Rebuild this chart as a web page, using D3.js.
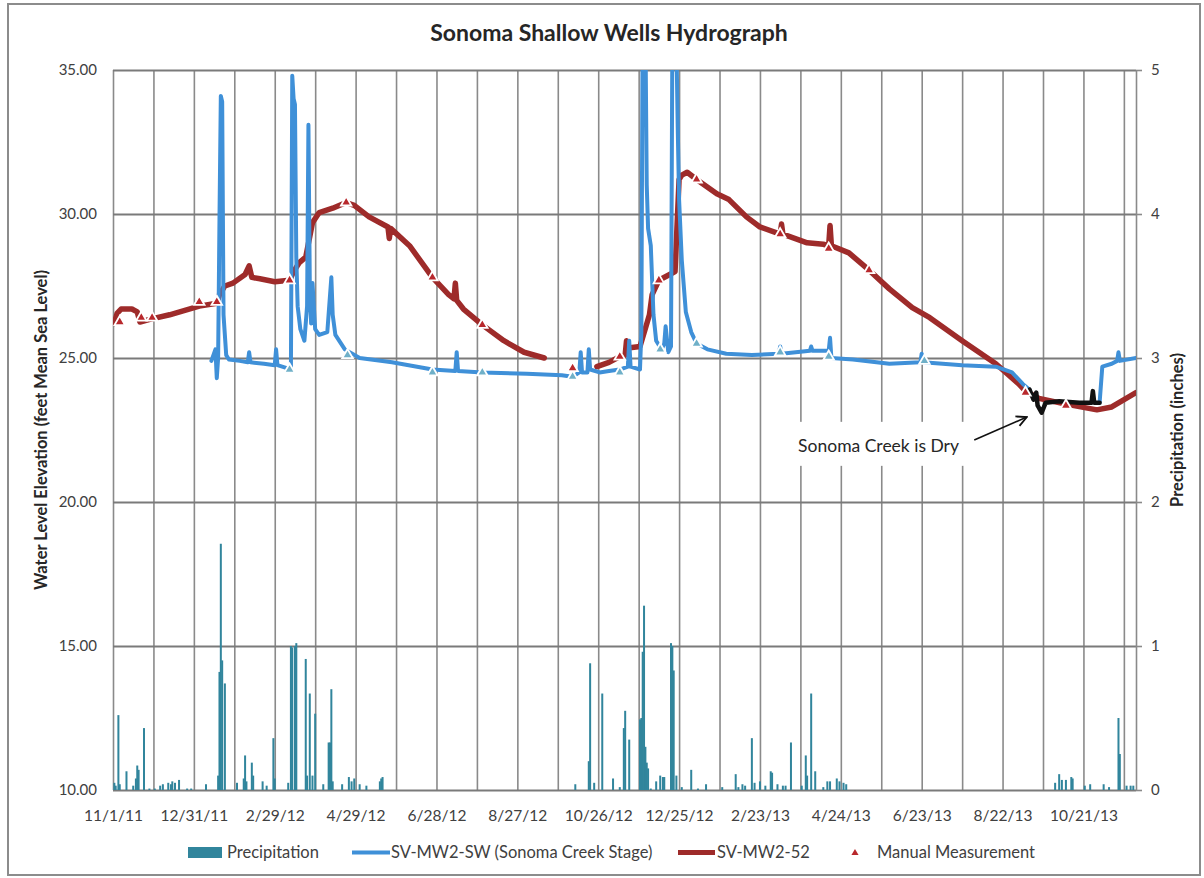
<!DOCTYPE html>
<html>
<head>
<meta charset="utf-8">
<script src="https://cdn.jsdelivr.net/npm/d3@7"></script>
<style>
  body { margin: 0; background: #fff; }
  text { font-family: Lato, "Open Sans", sans-serif; }
</style>
</head>
<body>
<div id="chart"></div>
<script>
// ---- data ----
const chartTitle = "Sonoma Shallow Wells Hydrograph";
const axisStart = "11/1/11";
const axisEnd = "11/29/13";
const levelTicks = [10, 15, 20, 25, 30, 35];
const rainTicks = [0, 1, 2, 3, 4, 5];

const rainDates = ["11/2/11","11/3/11","11/5/11","11/6/11","11/11/11","11/16/11","11/18/11","11/19/11","11/20/11","11/24/11","11/28/11",
  "12/2/11","12/6/11","12/8/11","12/12/11","12/14/11","12/15/11","12/17/11","12/20/11","12/26/11","12/29/11",
  "1/9/12","1/18/12","1/19/12","1/20/12","1/21/12","1/23/12","2/1/12","2/6/12","2/7/12","2/8/12","2/12/12","2/13/12","2/20/12","2/23/12","2/28/12","2/29/12",
  "3/10/12","3/12/12","3/13/12","3/15/12","3/16/12","3/23/12","3/24/12","3/26/12","3/28/12","3/30/12",
  "4/5/12","4/9/12","4/10/12","4/11/12","4/12/12","4/19/12","4/24/12","4/26/12","4/28/12","5/2/12","5/7/12","5/17/12","5/18/12","5/19/12",
  "10/9/12","10/19/12","10/20/12","10/23/12","10/29/12","11/6/12","11/11/12","11/14/12","11/15/12","11/18/12","11/26/12","11/27/12","11/28/12","11/29/12","11/30/12",
  "12/1/12","12/2/12","12/4/12","12/8/12","12/11/12","12/13/12","12/14/12","12/19/12","12/20/12","12/21/12","12/23/12","12/27/12",
  "1/3/13","1/8/13","1/14/13","1/26/13","2/5/13","2/7/13","2/10/13","2/12/13","2/17/13","2/19/13","2/23/13","2/27/13",
  "3/3/13","3/4/13","3/8/13","3/12/13","3/14/13","3/18/13","3/26/13","3/29/13","3/30/13",
  "4/2/13","4/5/13","4/11/13","4/14/13","4/16/13","4/21/13","4/23/13","4/26/13","4/28/13",
  "9/30/13","10/3/13","10/5/13","10/8/13","10/12/13","10/13/13","10/22/13","10/26/13","11/5/13","11/9/13","11/16/13","11/17/13","11/22/13","11/25/13","11/27/13"];
const rainInches = [0.05,0.03,0.52,0.04,0.13,0.03,0.08,0.17,0.14,0.43,0.01,
  0.01,0.03,0.04,0.05,0.04,0.06,0.05,0.07,0.01,0.01,
  0.04,0.10,0.82,1.71,0.90,0.74,0.05,0.08,0.24,0.06,0.19,0.10,0.06,0.03,0.36,0.08,
  0.05,1.00,0.99,1.00,1.02,0.91,0.10,0.67,0.10,0.53,
  0.04,0.33,0.33,0.70,0.06,0.04,0.09,0.06,0.08,0.04,0.03,0.06,0.08,0.09,
  0.04,0.20,0.88,0.05,0.67,0.08,0.02,0.43,0.55,0.35,0.49,0.50,0.96,1.28,0.30,
  0.19,0.15,0.01,0.06,0.10,0.09,0.09,1.02,1.00,0.83,0.10,0.02,
  0.14,0.01,0.04,0.02,0.11,0.02,0.04,0.03,0.36,0.05,0.06,0.03,
  0.13,0.12,0.04,0.03,0.03,0.33,0.03,0.24,0.10,
  0.67,0.13,0.02,0.06,0.06,0.08,0.06,0.05,0.04,
  0.05,0.11,0.07,0.07,0.09,0.08,0.03,0.04,0.04,0.02,0.50,0.25,0.03,0.03,0.03];

// SV-MW2-SW creek stage, before it went dry
const stageDates = ["1/13/12","1/16/12","1/17/12","1/18/12","1/19/12","1/20/12","1/21/12","1/22/12","1/24/12","1/26/12","2/3/12","2/9/12","2/10/12","2/11/12","2/21/12","2/29/12","3/1/12","3/2/12","3/9/12","3/12/12",
  "3/13/12","3/14/12","3/15/12","3/16/12","3/17/12","3/19/12","3/22/12","3/24/12","3/25/12","3/26/12","3/27/12","3/28/12","3/30/12","4/2/12","4/8/12","4/11/12","4/12/12","4/14/12","4/21/12",
  "5/2/12","5/26/12","6/25/12","7/12/12","7/13/12","7/14/12","8/1/12","9/3/12","9/29/12","10/7/12","10/12/12","10/13/12","10/14/12","10/18/12","10/19/12","10/20/12","10/27/12",
  "11/3/12","11/11/12","11/17/12","11/18/12","11/19/12","11/26/12","11/27/12","11/28/12","11/30/12","12/1/12","12/2/12","12/4/12","12/6/12","12/8/12","12/12/12","12/14/12","12/15/12","12/17/12","12/19/12",
  "12/20/12","12/23/12","12/24/12","12/25/12","12/27/12","12/30/12","1/3/13","1/7/13","1/15/13","1/29/13","2/17/13","3/9/13","3/10/13","3/11/13","4/1/13","4/2/13","4/3/13","4/15/13","4/16/13","4/17/13",
  "5/3/13","5/30/13","6/22/13","6/23/13","6/24/13","7/23/13","8/17/13","8/29/13","9/6/13","9/11/13"];
const stageFeet = [24.9,25.3,24.3,25.0,29.8,34.1,33.9,26.5,25.1,24.95,24.9,24.85,25.2,24.85,24.8,24.75,25.3,24.75,24.65,24.6,
  34.8,34.0,33.8,28.5,26.8,26.0,25.6,26.8,33.1,27.6,26.2,27.6,26.0,25.8,25.9,27.8,26.5,25.8,25.3,
  25.0,24.85,24.6,24.55,25.2,24.55,24.5,24.45,24.4,24.35,24.5,25.2,24.5,24.5,25.3,24.6,24.5,
  24.55,24.6,24.7,25.6,24.7,24.6,25.9,37.0,36.5,31.0,29.5,28.9,26.5,25.6,25.3,25.5,26.1,25.2,25.4,
  36.0,36.0,33.0,30.5,28.4,26.6,25.9,25.5,25.3,25.15,25.1,25.15,25.4,25.15,25.25,25.4,25.25,25.25,25.7,25.0,
  24.95,24.8,24.85,25.15,24.85,24.75,24.7,24.5,24.1,23.9];

// creek dry period (drawn black)
const dryDates = ["9/11/13","9/14/13","9/16/13","9/17/13","9/20/13","9/23/13","10/3/13","10/18/13","10/27/13","10/28/13","10/29/13","11/2/13"];
const dryFeet = [23.9,23.55,23.8,23.35,23.1,23.45,23.5,23.45,23.45,23.85,23.45,23.45];

// creek stage after flow returned
const stageLateDates = ["11/2/13","11/4/13","11/11/13","11/15/13","11/16/13","11/17/13","11/29/13"];
const stageLateFeet = [23.45,24.7,24.8,24.9,25.2,24.9,25.0];

// SV-MW2-52 well, first record
const wellDates = ["11/2/11","11/4/11","11/7/11","11/15/11","11/19/11","11/21/11","11/29/11","12/13/11","1/4/12","1/17/12","1/19/12","1/23/12","1/29/12","2/7/12","2/10/12","2/12/12","2/18/12","2/29/12",
  "3/11/12","3/14/12","3/18/12","3/23/12","3/28/12","4/2/12","4/12/12","4/22/12","4/28/12","5/9/12","5/23/12","5/24/12","5/25/12","6/8/12","6/25/12","7/7/12","7/11/12","7/12/12","7/13/12","7/18/12","8/1/12","8/17/12","9/1/12","9/16/12"];
const wellFeet = [26.2,26.55,26.7,26.7,26.6,26.25,26.35,26.5,26.8,26.9,27.2,27.5,27.6,27.9,28.2,27.8,27.75,27.65,
  27.7,28.0,28.3,28.5,29.7,30.05,30.2,30.4,30.3,29.9,29.55,29.15,29.5,28.9,27.8,27.2,27.05,27.6,27.0,26.7,26.15,25.6,25.2,25.0];

// SV-MW2-52 well, second record
const wellLateDates = ["10/25/12","11/3/12","11/11/12","11/15/12","11/16/12","11/17/12","11/26/12","12/3/12","12/5/12","12/10/12","12/18/12","12/22/12","12/25/12","12/27/12","12/31/12",
  "1/7/13","1/22/13","1/31/13","2/13/13","2/23/13","3/10/13","3/11/13","3/12/13","3/30/13","4/11/13","4/15/13","4/16/13","4/17/13","4/30/13","5/15/13","5/30/13","6/16/13","6/29/13","7/23/13","8/17/13","9/3/13","9/8/13","9/18/13","10/8/13","10/31/13","11/11/13","11/29/13"];
const wellLateFeet = [24.7,24.85,25.05,25.1,25.6,25.35,25.4,26.5,27.2,27.7,27.9,28.0,31.2,31.35,31.45,
  31.2,30.7,30.5,29.9,29.55,29.3,29.65,29.3,29.0,28.95,28.9,29.6,28.9,28.65,28.05,27.4,26.75,26.4,25.6,24.8,24.1,23.85,23.6,23.4,23.2,23.3,23.8];

// manual measurements
const manualWellDates = ["11/6/11","11/22/11","11/30/11","1/4/12","1/17/12","3/11/12","4/22/12","6/25/12","8/1/12","10/7/12","11/11/12","12/10/12","1/7/13","3/10/13","4/15/13","5/15/13","9/8/13","10/8/13"];
const manualWellFeet = [26.25,26.4,26.4,26.95,26.95,27.7,30.4,27.8,26.15,24.65,25.05,27.7,31.2,29.3,28.8,28.05,23.8,23.35];
const manualStageDates = ["3/11/12","4/23/12","6/25/12","8/1/12","10/7/12","11/11/12","12/11/12","1/7/13","3/10/13","4/15/13","6/25/13"];
const manualStageFeet = [24.6,25.1,24.5,24.5,24.35,24.5,25.3,25.5,25.2,25.05,24.9];

const annotationText = "Sonoma Creek is Dry";

// ---- chart ----
const W = 1204, H = 878;
const plot = { left: 113, right: 1136, top: 70, bottom: 790 };
const colors = { rain: "#31859c", stage: "#3f90d8", well: "#9e2b2a", dry: "#111", grid: "#8a8a8a", text: "#404040" };

const parseDate = d3.utcParse("%m/%d/%y");
const labelFmt = d3.utcFormat("%-m/%-d/%y");
const pairs = (ds, vs) => ds.map((d, i) => ({ date: parseDate(d), value: vs[i] }));

const svg = d3.select("#chart").append("svg")
  .attr("width", W)
  .attr("height", H);

// outer frame
svg.append("rect")
  .attr("x", 8).attr("y", 4)
  .attr("width", 1192).attr("height", 871)
  .attr("fill", "#fff")
  .attr("stroke", "#8c8c8c")
  .attr("stroke-width", 2);

const x = d3.scaleUtc()
  .domain([parseDate(axisStart), parseDate(axisEnd)])
  .range([plot.left, plot.right]);
const yLevel = d3.scaleLinear().domain([10, 35]).range([plot.bottom, plot.top]);
const yRain = d3.scaleLinear().domain([0, 5]).range([plot.bottom, plot.top]);

// 30 day grid, label every other line
const gridDates = d3.range(0, 26).map(i => d3.utcDay.offset(parseDate(axisStart), 30 * i));

const xAxis = svg.append("g")
  .attr("transform", `translate(0,${plot.bottom})`)
  .call(d3.axisBottom(x)
    .tickValues(gridDates)
    .tickSize(-(plot.bottom - plot.top))
    .tickPadding(20)
    .tickFormat((d, i) => i % 2 === 0 ? labelFmt(d) : ""));

const yAxis = svg.append("g")
  .attr("transform", `translate(${plot.left},0)`)
  .call(d3.axisLeft(yLevel)
    .tickValues(levelTicks)
    .tickSize(-(plot.right - plot.left))
    .tickPadding(16)
    .tickFormat(d3.format(".2f")));

const y2Axis = svg.append("g")
  .attr("transform", `translate(${plot.right},0)`)
  .call(d3.axisRight(yRain)
    .tickValues(rainTicks)
    .tickSize(6)
    .tickSizeOuter(0)
    .tickPadding(9)
    .tickFormat(d3.format("d")));

[xAxis, yAxis].forEach(g => g.select(".domain").remove());
[xAxis, yAxis, y2Axis].forEach(g => {
  g.selectAll(".tick line").attr("stroke", colors.grid).attr("stroke-width", 1.6);
  g.selectAll(".tick text").attr("fill", colors.text).attr("font-size", "15px");
});
xAxis.selectAll(".tick text").attr("font-size", "15.5px");
y2Axis.select(".domain").attr("stroke", colors.grid).attr("stroke-width", 1.6);
yAxis.selectAll(".tick line").attr("stroke", "#7a7a7a").attr("stroke-width", 2);

// annotation box sits above the grid
const noteX = x(parseDate("5/22/13"));
const noteY = yLevel(21.95);
svg.append("rect")
  .attr("x", noteX - 92).attr("y", noteY - 24)
  .attr("width", 188).attr("height", 44)
  .attr("fill", "#fff");

// clip region for the lines
svg.append("clipPath").attr("id", "plotClip")
  .append("rect")
  .attr("x", plot.left).attr("y", plot.top)
  .attr("width", plot.right - plot.left).attr("height", plot.bottom - plot.top);

// precipitation bars
svg.append("g")
  .selectAll("rect")
  .data(pairs(rainDates, rainInches))
  .enter()
  .append("rect")
  .attr("x", d => x(d.date) - 1)
  .attr("y", d => yRain(d.value))
  .attr("width", 2)
  .attr("height", d => yRain(0) - yRain(d.value))
  .attr("fill", colors.rain);

const line = d3.line().x(d => x(d.date)).y(d => yLevel(d.value));
const lines = svg.append("g").attr("clip-path", "url(#plotClip)")
  .attr("fill", "none")
  .attr("stroke-linejoin", "round")
  .attr("stroke-linecap", "round");

[pairs(wellDates, wellFeet), pairs(wellLateDates, wellLateFeet)].forEach(series => {
  lines.append("path").attr("d", line(series))
    .attr("stroke", colors.well).attr("stroke-width", 5.5);
});
[pairs(stageDates, stageFeet), pairs(stageLateDates, stageLateFeet)].forEach(series => {
  lines.append("path").attr("d", line(series))
    .attr("stroke", colors.stage).attr("stroke-width", 4);
});
lines.append("path").attr("d", line(pairs(dryDates, dryFeet)))
  .attr("stroke", colors.dry).attr("stroke-width", 4.5);

// manual measurement triangles
const tri = d3.symbol().type(d3.symbolTriangle).size(48);
svg.append("g").selectAll("path")
  .data(pairs(manualStageDates, manualStageFeet))
  .enter().append("path")
  .attr("d", tri)
  .attr("transform", d => `translate(${x(d.date)},${yLevel(d.value)})`)
  .attr("fill", "#6fb0c8")
  .attr("stroke", "#fff")
  .attr("stroke-width", 1.8);
svg.append("g").selectAll("path")
  .data(pairs(manualWellDates, manualWellFeet))
  .enter().append("path")
  .attr("d", tri)
  .attr("transform", d => `translate(${x(d.date)},${yLevel(d.value)})`)
  .attr("fill", "#b8282c")
  .attr("stroke", "#fff")
  .attr("stroke-width", 1.8);

// annotation
svg.append("text")
  .attr("x", noteX).attr("y", noteY + 6)
  .attr("text-anchor", "middle")
  .attr("font-size", "17.5px")
  .attr("fill", "#262626")
  .text(annotationText);

svg.append("defs").append("marker")
  .attr("id", "arrow")
  .attr("viewBox", "0 0 10 10")
  .attr("refX", 9).attr("refY", 5)
  .attr("markerWidth", 8).attr("markerHeight", 8)
  .attr("orient", "auto")
  .append("path")
  .attr("d", "M1,1 L9,5 L1,9")
  .attr("fill", "none")
  .attr("stroke", "#111")
  .attr("stroke-width", 1.4);

svg.append("line")
  .attr("x1", x(parseDate("8/1/13"))).attr("y1", yLevel(22.15))
  .attr("x2", x(parseDate("9/9/13"))).attr("y2", yLevel(22.95))
  .attr("stroke", "#111")
  .attr("stroke-width", 1.6)
  .attr("marker-end", "url(#arrow)");

// titles
svg.append("text")
  .attr("x", 609).attr("y", 41)
  .attr("text-anchor", "middle")
  .attr("font-size", "23px")
  .attr("font-weight", "bold")
  .attr("fill", "#262626")
  .text(chartTitle);

svg.append("text")
  .attr("transform", `translate(47,${(plot.top + plot.bottom) / 2}) rotate(-90)`)
  .attr("text-anchor", "middle")
  .attr("font-size", "16.5px")
  .attr("font-weight", "bold")
  .attr("fill", "#262626")
  .text("Water Level Elevation (feet Mean Sea Level)");

svg.append("text")
  .attr("transform", `translate(1183,${(plot.top + plot.bottom) / 2}) rotate(-90)`)
  .attr("text-anchor", "middle")
  .attr("font-size", "16.5px")
  .attr("font-weight", "bold")
  .attr("fill", "#262626")
  .text("Precipitation (inches)");

// legend
const legend = svg.append("g").attr("font-size", "16.5px").attr("fill", colors.text);
legend.append("rect").attr("x", 188).attr("y", 847).attr("width", 34).attr("height", 11).attr("fill", colors.rain);
legend.append("text").attr("x", 227).attr("y", 858).text("Precipitation");
legend.append("line").attr("x1", 352).attr("x2", 390).attr("y1", 852.5).attr("y2", 852.5)
  .attr("stroke", colors.stage).attr("stroke-width", 4);
legend.append("text").attr("x", 391).attr("y", 858).text("SV-MW2-SW (Sonoma Creek Stage)");
legend.append("line").attr("x1", 678).attr("x2", 715).attr("y1", 852.5).attr("y2", 852.5)
  .attr("stroke", colors.well).attr("stroke-width", 5);
legend.append("text").attr("x", 717).attr("y", 858).text("SV-MW2-52");
legend.append("path").attr("d", d3.symbol().type(d3.symbolTriangle).size(22))
  .attr("transform", "translate(855,853)").attr("fill", "#b8282c");
legend.append("text").attr("x", 877).attr("y", 858).text("Manual Measurement");
</script>
</body>
</html>
